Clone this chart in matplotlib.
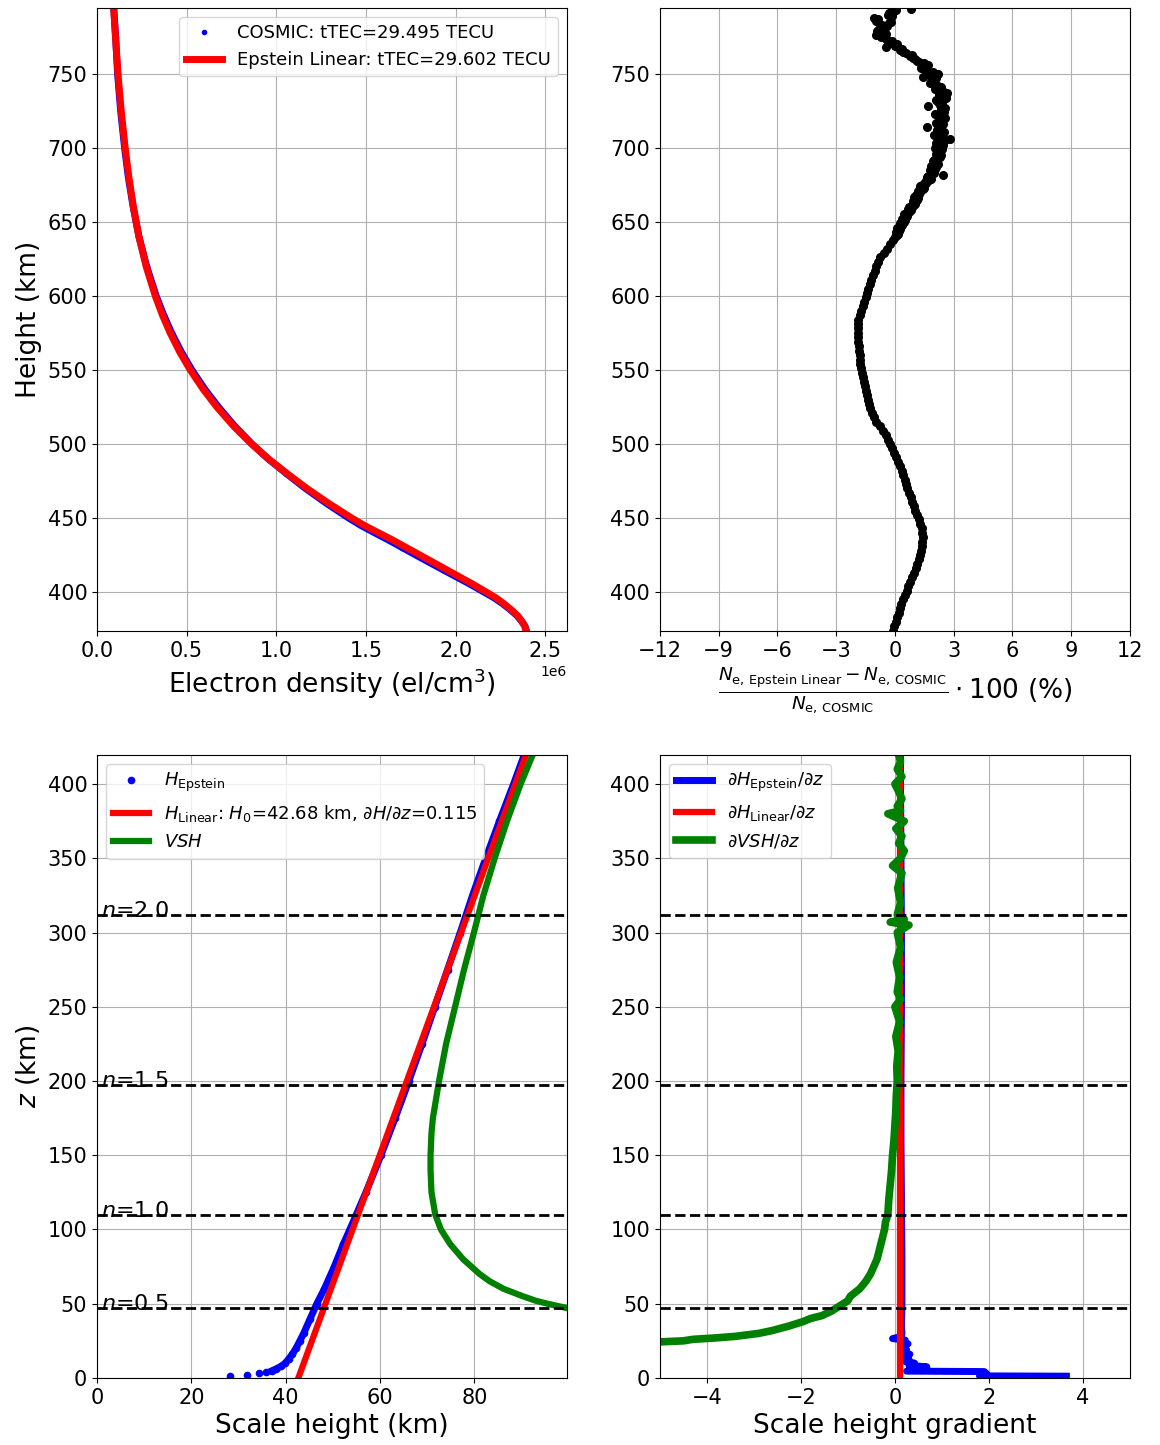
import numpy as np
import matplotlib
matplotlib.use("Agg")
import matplotlib.pyplot as plt

# --- top left: electron density profiles (1e6 el/cm3) ---
ne_height = [374, 377, 380, 384, 388, 392, 396, 400, 405, 410, 415, 420, 425, 430,
             435, 440, 445, 450, 460, 470, 480, 490, 500, 512, 525, 537, 550, 562,
             575, 587, 600, 620, 640, 660, 680, 700, 725, 750, 775, 795]
ne_epstein = [2.392, 2.385, 2.370, 2.345, 2.310, 2.270, 2.225, 2.170, 2.100, 2.025,
              1.950, 1.875, 1.800, 1.725, 1.650, 1.570, 1.490, 1.420, 1.290, 1.170,
              1.060, 0.955, 0.862, 0.762, 0.668, 0.592, 0.520, 0.462, 0.408, 0.365,
              0.325, 0.274, 0.234, 0.203, 0.178, 0.157, 0.135, 0.117, 0.103, 0.093]
ne_cosmic = [2.394, 2.386, 2.369, 2.342, 2.305, 2.263, 2.215, 2.157, 2.085, 2.007,
             1.930, 1.853, 1.777, 1.702, 1.627, 1.548, 1.471, 1.403, 1.278, 1.162,
             1.056, 0.954, 0.864, 0.768, 0.677, 0.601, 0.529, 0.471, 0.416, 0.372,
             0.330, 0.277, 0.234, 0.202, 0.175, 0.154, 0.132, 0.115, 0.104, 0.093]
ttec_cosmic = 29.495
ttec_epstein = 29.602

# --- top right: relative difference (%) ---
diff_height = [374, 377, 380, 383, 386, 389, 392, 395, 398, 401, 404, 407, 410, 413,
               416, 419, 422, 425, 428, 431, 434, 437, 440, 443, 446, 449, 452, 455,
               458, 461, 464, 467, 470, 473, 476, 479, 482, 485, 488, 491, 494, 497,
               500, 503, 506, 509, 512, 515, 518, 521, 524, 527, 530, 533, 536, 539,
               542, 545, 548, 551, 554, 557, 560, 563, 566, 569, 572, 575, 578, 581,
               584, 587, 590, 593, 596, 599, 602, 605, 608, 611, 614, 617, 620, 623,
               626, 629, 632, 635, 638,
               640, 642, 644, 646, 648, 650, 652, 654, 656, 658, 660, 662, 664, 666,
               668, 670, 672, 674, 676, 678, 680, 682, 684, 686, 688, 690, 692, 694,
               696, 698, 700, 702, 704, 706, 708, 710, 712, 714, 716, 718, 720, 722,
               724, 726, 728, 730, 732, 734, 736, 738, 740, 742, 744, 746, 748, 750,
               752, 754, 756, 758, 760, 762, 764, 766, 768, 770, 772, 774, 776, 778,
               780, 782, 784, 786, 788, 790, 792, 794,
               641, 643, 645, 647, 649, 651, 653, 655, 657, 659, 661, 663, 665, 667,
               669, 671, 673, 675, 677, 679, 681, 683, 685, 687, 689, 691, 693, 695,
               697, 699, 701, 703, 705, 707, 709, 711, 713, 715, 717, 719, 721, 723,
               725, 727, 729, 731, 733, 735, 737, 739, 741, 743, 745, 747, 749, 751,
               753, 755, 757, 759, 761, 763, 765, 767, 769, 771, 773, 775, 777, 779,
               781, 783, 785, 787, 789, 791, 793]
diff_pct = [-0.10, -0.03, 0.05, 0.12, 0.19, 0.26, 0.33, 0.41, 0.50, 0.60, 0.68, 0.78,
            0.88, 0.98, 1.07, 1.15, 1.22, 1.28, 1.33, 1.38, 1.41, 1.42, 1.40, 1.36,
            1.30, 1.22, 1.13, 1.05, 0.97, 0.88, 0.80, 0.72, 0.64, 0.57, 0.50, 0.43,
            0.35, 0.27, 0.18, 0.08, -0.05, -0.15, -0.25, -0.35, -0.46, -0.60, -0.78,
            -0.95, -1.08, -1.18, -1.25, -1.33, -1.39, -1.44, -1.47, -1.52, -1.58,
            -1.64, -1.69, -1.73, -1.76, -1.78, -1.80, -1.82, -1.84, -1.86, -1.88,
            -1.89, -1.90, -1.89, -1.86, -1.80, -1.73, -1.64, -1.56, -1.48, -1.42,
            -1.36, -1.29, -1.22, -1.13, -1.03, -0.94, -0.85, -0.74, -0.58, -0.42,
            -0.25, -0.10,
            0.02, 0.15, 0.22, 0.10, 0.35, 0.45, 0.38, 0.62, 0.55, 0.80, 0.70, 1.05,
            0.95, 1.20, 1.10, 1.30, 1.45, 1.30, 1.60, 1.75, 1.65, 2.45, 1.90, 2.05,
            1.85, 2.15, 2.00, 2.30, 2.10, 2.25, 2.05, 2.45, 2.30, 2.80, 2.25, 2.40,
            2.15, 1.65, 2.45, 2.30, 2.55, 2.20, 2.50, 2.35, 1.70, 2.40, 2.10, 2.60,
            2.25, 2.50, 2.05, 2.20, 1.80, 2.00, 1.45, 2.20, 1.60, 1.35, 1.70, 1.25,
            1.05, 0.75, 0.55, 0.25, -0.45, 0.10, -0.15, -0.50, -0.95, -0.60, -0.80,
            -0.40, -0.30, -0.95, -1.05, -0.35, -0.10, 0.80,
            0.10, 0.05, 0.28, 0.30, 0.25, 0.50, 0.55, 0.45, 0.72, 0.65, 0.90, 1.00,
            1.15, 1.00, 1.25, 1.20, 1.50, 1.40, 1.55, 1.85, 1.70, 2.00, 1.80, 2.10,
            2.20, 1.95, 2.20, 2.35, 2.15, 2.40, 2.20, 2.10, 2.55, 2.35, 2.00, 2.50,
            2.25, 2.35, 2.10, 2.40, 2.30, 2.05, 2.45, 2.55, 2.30, 2.20, 2.45, 2.30,
            2.65, 2.15, 2.35, 2.00, 1.90, 2.10, 1.75, 1.95, 1.55, 1.40, 1.50, 1.15,
            0.95, 0.85, 0.40, 0.35, 0.00, -0.20, -0.40, -0.70, -0.45, -0.90, -0.55,
            -0.65, -0.20, -0.85, -0.15, -0.30, 0.05]

# --- bottom left: scale heights (km) ---
h_ep_z = [1, 2, 3, 4, 5, 6, 8, 10, 13, 16, 20, 25, 30, 40, 50, 60, 75, 90, 100,
          125, 150, 175, 200, 225, 250, 275, 300, 325, 350, 375, 400, 420]
h_ep = [28.2, 31.8, 34.3, 35.9, 37.2, 37.9, 39.1, 39.9, 40.7, 41.4, 42.2, 43.0, 43.8,
        45.2, 46.6, 48.2, 50.3, 52.2, 53.6, 57.0, 60.2, 63.2, 66.1, 68.9, 71.6, 74.3,
        77.0, 79.6, 82.4, 85.3, 88.3, 90.6]
h_lin_z = [0, 420]
h_lin = [42.68, 90.98]
vsh_z = [40, 44, 47, 50, 52, 55, 60, 65, 70, 80, 90, 100, 110, 125, 140, 150, 165,
         175, 200, 225, 250, 275, 300, 325, 350, 375, 400, 420]
vsh = [125.0, 108.0, 99.7, 95.5, 93.0, 90.3, 86.2, 83.3, 81.1, 77.6, 74.9, 72.9,
       71.7, 70.9, 70.7, 70.7, 70.9, 71.2, 72.5, 74.0, 75.9, 77.8, 79.9, 81.9, 84.3,
       86.9, 89.8, 92.4]

# --- bottom right: scale height gradients ---
g_ep_z = [1.2, 1.4, 3.0, 4.3, 4.6, 6, 7.5, 8.5, 10, 11, 12.5, 14, 16, 17, 19, 21,
          23, 24, 25.5, 26.5, 28, 30, 35, 50, 80, 120, 160, 200, 250, 300, 350, 400, 420]
g_ep = [3.65, 1.8, 1.95, 1.9, 0.25, 0.35, 0.68, 0.3, 0.42, 0.22, 0.3, 0.2, 0.32, 0.2,
        0.25, 0.18, 0.28, 0.15, 0.22, -0.05, 0.14, 0.15, 0.14, 0.15, 0.15, 0.14, 0.13,
        0.13, 0.14, 0.14, 0.13, 0.12, 0.12]
g_lin_z = [0, 420]
g_lin = [0.115, 0.115]
g_vsh_z = [24, 25, 26, 27, 28, 30, 32, 35, 38, 40, 42, 45, 48, 50, 52, 55, 60, 65, 70,
           75, 80, 90, 100, 105, 110, 120, 130, 140, 150, 160, 170, 180, 190, 200, 210,
           220, 230, 240, 250, 255, 260, 270, 280, 290, 300, 305, 307, 309, 312, 320,
           330, 340, 345, 350, 355, 360, 365, 370, 375, 380, 382, 385, 390, 395, 400,
           405, 410, 415, 420]
g_vsh = [-5.2, -4.5, -4.3, -3.8, -3.4, -2.9, -2.6, -2.25, -1.95, -1.8, -1.55, -1.35,
         -1.2, -1.1, -1.0, -0.95, -0.75, -0.62, -0.52, -0.45, -0.38, -0.3, -0.22, -0.2,
         -0.15, -0.13, -0.1, -0.07, -0.05, -0.02, 0.0, 0.02, 0.03, 0.05, 0.04, 0.07,
         0.02, 0.1, 0.0, 0.12, 0.05, 0.1, 0.03, 0.12, 0.05, 0.3, -0.1, 0.2, 0.05, 0.12,
         0.06, 0.15, -0.05, 0.12, 0.2, 0.08, 0.15, 0.02, 0.2, -0.15, 0.12, 0.05, 0.15,
         0.08, 0.0, 0.15, 0.05, 0.12, 0.08]

n_levels = [0.5, 1.0, 1.5, 2.0]
n_heights = [47.2, 110.0, 197.0, 311.6]

TICK = 15
LAB = 19
LEG = 13

fig, axs = plt.subplots(2, 2, figsize=(11.6, 14.45), dpi=100)
fig.subplots_adjust(left=0.0836, right=0.974, bottom=0.0464, top=0.9945,
                    wspace=0.198, hspace=0.199)

# top left
ax = axs[0, 0]
ax.plot(np.array(ne_cosmic) * 1e6, ne_height, "b-", lw=5)
ax.plot(np.array(ne_cosmic) * 1e6, ne_height, "b.", ms=6,
        label=f"COSMIC: tTEC={ttec_cosmic} TECU")
ax.plot(np.array(ne_epstein) * 1e6, ne_height, "r-", lw=5,
        label=f"Epstein Linear: tTEC={ttec_epstein} TECU")
ax.set_xlim(0, 2.62e6)
ax.set_ylim(373.7, 794.5)
ax.set_xlabel("Electron density (el/cm$^3$)", fontsize=LAB)
ax.set_ylabel("Height (km)", fontsize=LAB)
ax.legend(loc="upper right", fontsize=LEG)
ax.grid(True)
ax.tick_params(labelsize=TICK)

# top right
ax = axs[0, 1]
ax.plot(diff_pct, diff_height, "ko", ms=5.5)
ax.set_xlim(-12, 12)
ax.set_xticks(range(-12, 13, 3))
ax.set_ylim(373.7, 794.5)
ax.set_xlabel(r"$\frac{N_\mathrm{e,\,Epstein\ Linear} - N_\mathrm{e,\,COSMIC}}"
              r"{N_\mathrm{e,\,COSMIC}} \cdot 100$ (%)", fontsize=LAB)
ax.grid(True)
ax.tick_params(labelsize=TICK)

# bottom left
ax = axs[1, 0]
ax.plot(h_ep[4:], h_ep_z[4:], "b-", lw=5)
ax.plot(h_ep, h_ep_z, "b.", ms=9, label=r"$H_\mathrm{Epstein}$")
ax.plot(h_lin, h_lin_z, "r-", lw=4.5,
        label=r"$H_\mathrm{Linear}$: $H_0$=42.68 km, $\partial H/\partial z$=0.115")
ax.plot(vsh, vsh_z, "g-", lw=4.5, label=r"$VSH$")
for n, zn in zip(n_levels, n_heights):
    ax.axhline(zn, color="k", ls="--", lw=2)
    ax.text(0.8, zn - 4, f"$n$={n}", fontsize=16, va="bottom")
ax.set_xlim(0, 99.6)
ax.set_ylim(0, 419.6)
ax.set_xlabel("Scale height (km)", fontsize=LAB)
ax.set_ylabel("$z$ (km)", fontsize=LAB)
ax.legend(loc="upper left", fontsize=LEG)
ax.grid(True)
ax.tick_params(labelsize=TICK)

# bottom right
ax = axs[1, 1]
ax.plot(g_ep, g_ep_z, "b-", lw=5, label=r"$\partial H_\mathrm{Epstein}/\partial z$")
ax.plot(g_lin, g_lin_z, "r-", lw=4.5, label=r"$\partial H_\mathrm{Linear}/\partial z$")
ax.plot(g_vsh, g_vsh_z, "g-", lw=5.5, label=r"$\partial VSH/\partial z$")
for zn in n_heights:
    ax.axhline(zn, color="k", ls="--", lw=2)
ax.set_xlim(-5, 5)
ax.set_ylim(0, 419.6)
ax.set_xlabel("Scale height gradient", fontsize=LAB)
ax.legend(loc="upper left", fontsize=LEG)
ax.grid(True)
ax.tick_params(labelsize=TICK)

fig.savefig("out.png", dpi=100)
